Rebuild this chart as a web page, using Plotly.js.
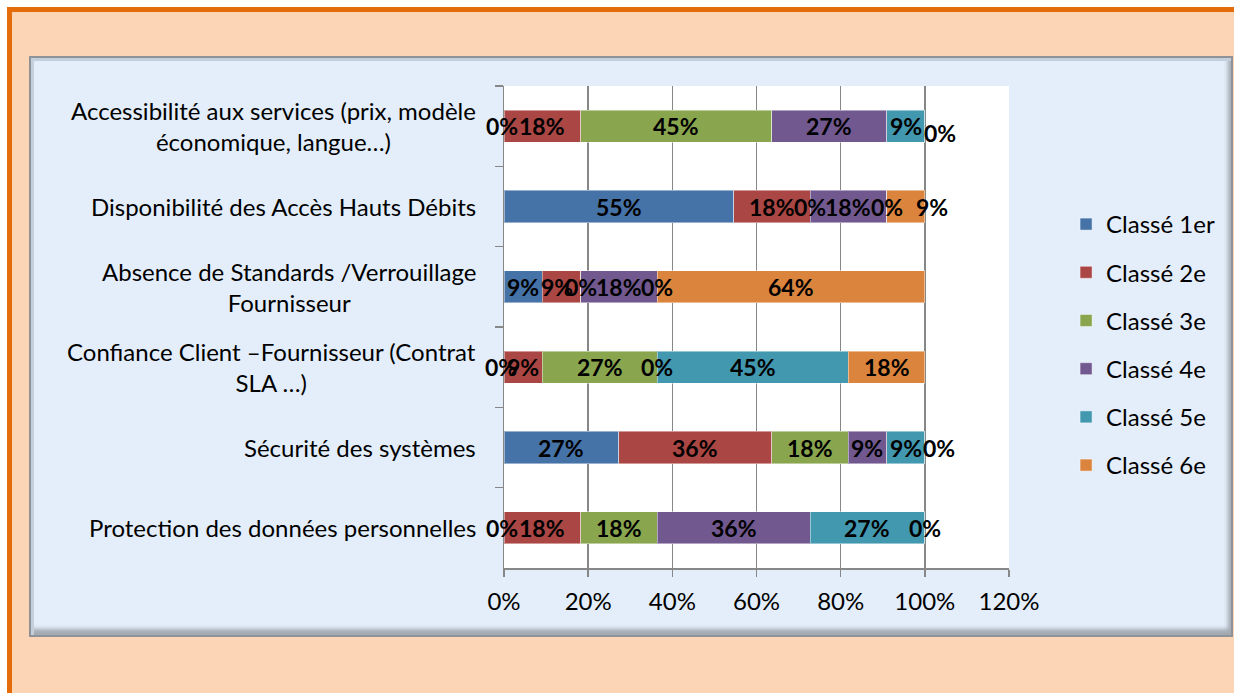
<!DOCTYPE html>
<html><head><meta charset="utf-8">
<script src="https://cdn.plot.ly/plotly-3.0.1.min.js"></script>
<style>
html,body{margin:0;padding:0;background:#fff;overflow:hidden;width:1234px;height:693px}
#frame{position:absolute;left:7px;top:7px;width:1240px;height:700px;background:#FBD5B5;border-left:5px solid #E46C0A;border-top:5px solid #E46C0A;}
#panel{position:absolute;left:29px;top:56px;width:1204px;height:581px;box-sizing:border-box;background:#E3EEFA;border:2px solid #8f9398;box-shadow:inset 3px 3px 0 #c4cfdb, inset -3px -6px 4px #a2a9b1;}
#chart{position:absolute;left:0;top:0;width:1234px;height:693px}
</style></head>
<body><div id="frame"></div><div id="panel"></div><div id="chart"></div>
<script>
const categories = [
  "Accessibilité aux services (prix, modèle<br>économique, langue…)",
  "Disponibilité des Accès Hauts Débits",
  "Absence de Standards /Verrouillage<br>Fournisseur",
  "Confiance Client –Fournisseur (Contrat<br>SLA …)",
  "Sécurité des systèmes",
  "Protection des données personnelles"
];
const seriesNames = ["Classé 1er","Classé 2e","Classé 3e","Classé 4e","Classé 5e","Classé 6e"];
const classe1 = [0, 54.55, 9.09, 0, 27.27, 0];
const classe2 = [18.18, 18.18, 9.09, 9.09, 36.36, 18.18];
const classe3 = [45.45, 0, 0, 27.27, 18.18, 18.18];
const classe4 = [27.27, 18.18, 18.18, 0, 9.09, 36.36];
const classe5 = [9.09, 0, 0, 45.45, 9.09, 27.27];
const classe6 = [0, 9.09, 63.64, 18.18, 0, 0];
const xTickValues = [0, 20, 40, 60, 80, 100, 120];
const xTickLabels = ["0%","20%","40%","60%","80%","100%","120%"];

const series = [classe1, classe2, classe3, classe4, classe5, classe6];
const colors = ["#4572A7","#AA4643","#89A54E","#71588F","#4198AF","#DB843D"];
// small pixel nudges of overlapping data labels (row,series)
const labelNudge = {"0,0":[-2,0],"0,5":[15,-7],"1,5":[26,0],"2,1":[-4,0],"3,0":[-3,0],"4,5":[14,0],"5,0":[-2,0]};

const traces = series.map((vals, j) => ({
  type: "bar", orientation: "h", name: seriesNames[j],
  y: categories, x: vals,
  marker: {color: colors[j], line: {color: "rgba(255,255,255,0.45)", width: 1}},
  legendgroup: "g" + j, hoverinfo: "x+name"
}));

const annotations = [];
categories.forEach((cat, i) => {
  let cum = 0;
  series.forEach((vals, j) => {
    const v = vals[i];
    const nd = labelNudge[i + "," + j] || [0, 0];
    annotations.push({
      x: cum + v / 2, y: cat, xref: "x", yref: "y",
      text: Math.round(v) + "%", showarrow: false,
      xanchor: "center", yanchor: "middle",
      xshift: nd[0], yshift: nd[1],
      font: {family: "Lato, sans-serif", size: 23, color: "#000", weight: "bold"}
    });
    cum += v;
  });
  annotations.push({
    x: 0, xref: "paper", y: cat, yref: "y",
    text: cat, showarrow: false, xanchor: "right", yanchor: "middle",
    align: "center", xshift: -26,
    font: {family: "Lato, sans-serif", size: 24, color: "#000"}
  });
});

const layout = {
  width: 1234, height: 693,
  margin: {l: 504, r: 225, t: 86, b: 125, pad: 0},
  paper_bgcolor: "rgba(0,0,0,0)", plot_bgcolor: "#ffffff",
  barmode: "stack", bargap: 0.6,
  font: {family: "Lato, sans-serif", size: 24, color: "#000"},
  showlegend: true,
  xaxis: {range: [0, 120], tickmode: "array", tickvals: xTickValues, ticktext: xTickLabels,
    showgrid: true, gridcolor: "#878787", gridwidth: 1.5,
    showline: true, linecolor: "#878787", linewidth: 1.5,
    ticks: "outside", ticklen: 7, tickcolor: "#878787", tickwidth: 1.5,
    ticklabelstandoff: 5,
    zeroline: false, tickfont: {size: 24, color: "#000"}},
  yaxis: {type: "category", autorange: "reversed", showticklabels: false,
    ticks: "outside", tickson: "boundaries", ticklen: 8, tickcolor: "#878787", tickwidth: 1.5,
    showline: true, linecolor: "#878787", linewidth: 1.5, showgrid: false, zeroline: false},
  legend: {x: 1.113, xanchor: "left", y: 0.4627, yanchor: "middle",
    font: {size: 24, color: "#000"}, tracegroupgap: 14, traceorder: "grouped",
    bgcolor: "rgba(0,0,0,0)", borderwidth: 0},
  annotations: annotations
};

Plotly.newPlot("chart", traces, layout, {displayModeBar: false, staticPlot: true});
</script>
</body></html>
